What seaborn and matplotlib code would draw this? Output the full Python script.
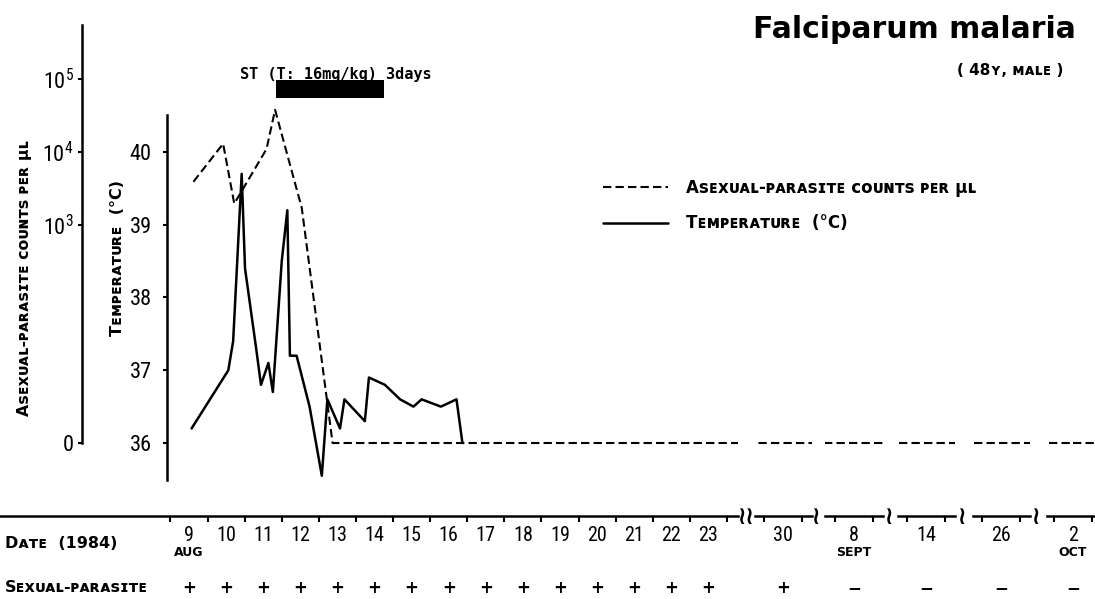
import numpy as np
import pandas as pd
import matplotlib
matplotlib.use("Agg")
import matplotlib.pyplot as plt
import matplotlib.transforms as mtransforms
from matplotlib import font_manager as fm
from matplotlib.ticker import FixedLocator, NullLocator, NullFormatter, FixedFormatter
import seaborn as sns

# ---------------- data ----------------
# x values are days counted from 1 Aug 1984 (Sep d -> 31 + d, Oct d -> 61 + d); d + 0.5 = noon of day d
temp_day = [9.57, 10.56, 10.69, 10.92, 11.01, 11.31, 11.44, 11.64, 11.76, 12.00,
            12.15, 12.22, 12.40, 12.75, 13.08, 13.23, 13.57, 13.69, 14.24, 14.35,
            14.78, 15.19, 15.55, 15.77, 16.29, 16.71, 16.87]
temp_c = [36.2, 37.0, 37.4, 39.7, 38.4, 37.3, 36.8, 37.1, 36.7, 38.5,
          39.2, 37.2, 37.2, 36.5, 35.55, 36.6, 36.2, 36.6, 36.3, 36.9,
          36.8, 36.6, 36.5, 36.6, 36.5, 36.6, 36.0]

para_day = [9.62, 10.42, 10.72, 11.59, 11.82, 12.54, 13.37, 30.5, 39.5, 45.5, 57.5, 63.5]
para_count = [3900, 13000, 1950, 11000, 38000, 1700, 0, 0, 0, 0, 0, 0]

treat_start = 11.85          # ST (T: 16mg/kg) 3days
treat_length = 2.9

main_dates = [9, 10, 11, 12, 13, 14, 15, 16, 17, 18, 19, 20, 21, 22, 23]
main_labels = ["9", "10", "11", "12", "13", "14", "15", "16", "17", "18", "19", "20", "21", "22", "23"]
follow_dates = [30, 39, 45, 57, 63]
follow_labels = ["30", "8", "14", "26", "2"]
months = [("AUG", 9), ("SEPT", 39), ("OCT", 63)]

sexual_dates = main_dates + follow_dates
sexual_marks = ["+"] * 15 + ["+", "\u2212", "\u2212", "\u2212", "\u2212"]

temp_ticks = [36, 37, 38, 39, 40]
para_ticks = [1, 1e3, 1e4, 1e5]
para_tick_labels = ["0", r"$\mathregular{10^3}$", r"$\mathregular{10^4}$", r"$\mathregular{10^5}$"]

# ---------------- layout (pixels) ----------------
W, H = 1095, 599
PPD = 37.1                 # pixels per day
X_NOON9 = 189              # pixel of 9 Aug noon
Y_36 = 443                 # pixel of 36 C / count 0 (10^0)
PPU = 72.75                # pixels per degree / per decade
Y_AXIS = 516
MAIN_R = 738
SEGS = [(755, 812, 783), (825, 883, 854), (898, 955, 926), (973, 1030, 1001), (1047, 1095, 1073)]
BREAKS = [(745, "\u2240\u2240"), (815, "\u2240"), (888, "\u2240"), (961, "\u2240"), (1035, "\u2240")]


def rect(l, r, t, b):
    return [l / W, 1 - b / H, (r - l) / W, (b - t) / H]


def temp_at(y):
    return 36 + (Y_36 - y) / PPU


def logc_at(y):
    return (Y_36 - y) / PPU


def day_at(x):
    return 9.5 + (x - X_NOON9) / PPD


# pick a narrow sans face if one is installed
narrow = None
for f in fm.fontManager.ttflist:
    st = f.stretch
    cond = ("condensed" in st) if isinstance(st, str) else (st < 500)
    if ("Narrow" in f.name or "Condensed" in f.name or cond) and "Mono" not in f.name \
            and "CJK" not in f.name and "Serif" not in f.name:
        if narrow is None or f.weight in ("normal", 400, "regular"):
            narrow = (f.name, st)
if narrow is not None:
    NUM_FAMILY = [narrow[0], "DejaVu Sans"]
    num_scale = 1.0
else:
    NUM_FAMILY = ["DejaVu Sans"]
    num_scale = 0.85

sns.set_theme(style="white")
plt.rcParams["font.family"] = NUM_FAMILY
if narrow is not None:
    plt.rcParams["font.stretch"] = narrow[1]
plt.rcParams["axes.linewidth"] = 1.8
plt.rcParams["axes.edgecolor"] = "black"
plt.rcParams["xtick.color"] = "black"
plt.rcParams["ytick.color"] = "black"
plt.rcParams["xtick.labelcolor"] = "black"
plt.rcParams["ytick.labelcolor"] = "black"
plt.rcParams["text.color"] = "black"
plt.rcParams["axes.labelcolor"] = "black"

fig = plt.figure(figsize=(W / 100, H / 100), dpi=100)
fig.patch.set_facecolor("white")

temp_df = pd.DataFrame({"day": temp_day, "temp": temp_c})
para_df = pd.DataFrame({"day": para_day, "count": para_count})
para_df["plot"] = np.where(para_df["count"] > 0, para_df["count"], 1.0)  # "0" sits at 10^0

DASH = (0, (4, 2))
SC = dict(family=["DejaVu Sans"], weight="bold", stretch="normal", color="black")
TICK_FS = 16 * num_scale
DATE_FS = 14.5 * num_scale


def date_axis(ax, dates, labels):
    ax.spines["bottom"].set_visible(True)
    ax.spines["bottom"].set_linewidth(1.8)
    ax.xaxis.set_major_locator(FixedLocator([d for d in dates] + [dates[-1] + 1]))
    ax.xaxis.set_major_formatter(NullFormatter())
    ax.xaxis.set_minor_locator(FixedLocator([d + 0.5 for d in dates]))
    ax.xaxis.set_minor_formatter(FixedFormatter(labels))
    ax.tick_params(axis="x", which="major", direction="out", length=4, width=1.5, bottom=True)
    ax.tick_params(axis="x", which="minor", length=0, pad=7, labelsize=DATE_FS, bottom=True)


# temperature axes
ax_t = fig.add_axes(rect(0, MAIN_R, 115, Y_AXIS))
ax_t.set_facecolor("none")
ax_t.set_xlim(day_at(0), day_at(MAIN_R))
ax_t.set_ylim(temp_at(Y_AXIS), temp_at(115))
for s in ["top", "right"]:
    ax_t.spines[s].set_visible(False)
ax_t.spines["left"].set_position(("axes", 167 / MAIN_R))
ax_t.spines["left"].set_bounds(temp_at(480), temp_at(115))
ax_t.set_yticks(temp_ticks)
ax_t.set_yticklabels([str(t) for t in temp_ticks])
ax_t.tick_params(axis="y", length=3, width=1.5, pad=8, labelsize=TICK_FS, left=True)
date_axis(ax_t, main_dates, main_labels)
sns.lineplot(data=temp_df, x="day", y="temp", ax=ax_t, color="black", lw=1.8,
             estimator=None, sort=False)
ax_t.set_xlabel("")
ax_t.set_ylabel("")

# parasite axes (log, same pixel scale)
ax_p = fig.add_axes(rect(0, MAIN_R, 25, Y_AXIS))
ax_p.set_facecolor("none")
ax_p.set_yscale("log")
ax_p.set_xlim(day_at(0), day_at(MAIN_R))
ax_p.set_ylim(10 ** logc_at(Y_AXIS), 10 ** logc_at(25))
for s in ["top", "right", "bottom"]:
    ax_p.spines[s].set_visible(False)
ax_p.spines["left"].set_position(("axes", 82 / MAIN_R))
ax_p.spines["left"].set_bounds(1, 10 ** logc_at(25))
ax_p.yaxis.set_major_locator(FixedLocator(para_ticks))
ax_p.yaxis.set_major_formatter(FixedFormatter(para_tick_labels))
ax_p.yaxis.set_minor_locator(NullLocator())
ax_p.tick_params(axis="y", length=3, width=1.5, pad=3, labelsize=TICK_FS, left=True)
ax_p.set_xticks([])
sns.lineplot(data=para_df, x="day", y="plot", ax=ax_p, color="black", lw=1.5,
             linestyle=DASH, estimator=None, sort=False)
ax_p.set_xlabel("")
ax_p.set_ylabel("")
fy = lambda y: (Y_AXIS - y) / (Y_AXIS - 25)
ax_p.axvspan(treat_start, treat_start + treat_length, ymin=fy(98), ymax=fy(80),
             color="black", lw=0)

# follow-up segments
seg_axes = []
for (L, R, c), d, lab in zip(SEGS, follow_dates, follow_labels):
    ax = fig.add_axes(rect(L, R, 25, Y_AXIS))
    ax.set_facecolor("none")
    ax.set_yscale("log")
    ax.set_ylim(10 ** logc_at(Y_AXIS), 10 ** logc_at(25))
    ax.set_xlim(d + 0.5 - (c - L) / PPD, d + 0.5 + (R - c) / PPD)
    for s in ["top", "right", "left"]:
        ax.spines[s].set_visible(False)
    ax.set_yticks([])
    ax.yaxis.set_minor_locator(NullLocator())
    date_axis(ax, [d], [lab])
    sns.lineplot(data=para_df, x="day", y="plot", ax=ax, color="black", lw=1.5,
                 linestyle=DASH, estimator=None, sort=False)
    ax.set_xlabel("")
    ax.set_ylabel("")
    seg_axes.append(ax)
# last value held to the right edge
last = seg_axes[-1]
last.hlines(para_df["plot"].iloc[-1], para_df["day"].iloc[-1], last.get_xlim()[1],
            color="black", lw=1.5, linestyle=DASH)

# axis break marks
for x, s in BREAKS:
    fig.text(x / W, 1 - (Y_AXIS + 1) / H, s, ha="center", va="center", fontsize=18,
             family=["DejaVu Sans"], weight="bold", color="black")

# month labels and sexual-parasite row
all_axes = {d: ax_t for d in main_dates}
all_axes.update({d: a for d, a in zip(follow_dates, seg_axes)})
for m, d in months:
    tr = mtransforms.blended_transform_factory(all_axes[d].transData, fig.transFigure)
    all_axes[d].text(d + 0.5, 1 - 553 / H, m, transform=tr, ha="center", va="center",
                     fontsize=9, clip_on=False, **SC)
for d, mk in zip(sexual_dates, sexual_marks):
    tr = mtransforms.blended_transform_factory(all_axes[d].transData, fig.transFigure)
    all_axes[d].text(d + 0.5, 1 - 588 / H, mk, transform=tr, ha="center", va="center",
                     fontsize=12, clip_on=False, **SC)

# texts
ASEX = ("A\ua731\u1d07x\u1d1c\u1d00\u029f-\u1d18\u1d00\u0280\u1d00\ua731\u026a\u1d1b\u1d07 "
        "\u1d04\u1d0f\u1d1c\u0274\u1d1b\ua731 \u1d18\u1d07\u0280 \u03bc\u029f")
TEMP = "T\u1d07\u1d0d\u1d18\u1d07\u0280\u1d00\u1d1b\u1d1c\u0280\u1d07  (\u00b0C)"
fig.text(5 / W, 1 - 544 / H, "D\u1d00\u1d1b\u1d07  (1984)", ha="left", va="center", fontsize=11.5, **SC)
fig.text(5 / W, 1 - 588 / H, "S\u1d07x\u1d1c\u1d00\u029f-\u1d18\u1d00\u0280\u1d00\ua731\u026a\u1d1b\u1d07",
         ha="left", va="center", fontsize=11.5, **SC)
fig.text(25 / W, 1 - 278 / H, ASEX, rotation=90, ha="center", va="center", fontsize=11.3, **SC)
fig.text(118 / W, 1 - 258 / H, TEMP, rotation=90, ha="center", va="center", fontsize=11.5, **SC)

fig.text(1076 / W, 1 - 38 / H, "Falciparum malaria", ha="right", va="baseline",
         family=["DejaVu Sans"], stretch="normal", weight="bold",
         fontsize=21.5, color="black")
fig.text(1063 / W, 1 - 75 / H, "( 48\u028f, \u1d0d\u1d00\u029f\u1d07 )", ha="right", va="baseline",
         fontsize=11, **SC)
fig.text(240 / W, 1 - 75 / H, "ST (T: 16mg/kg) 3days", ha="left", va="center",
         family=["DejaVu Sans Mono"], stretch="normal", fontsize=11, weight="bold", color="black")

fig.legend([ax_p.lines[0], ax_t.lines[0]], [ASEX, TEMP], loc="upper left",
           bbox_to_anchor=(603 / W, 1 - 179 / H), frameon=False, borderpad=0,
           borderaxespad=0, handlelength=3.9, handletextpad=1.1, labelspacing=1.05,
           prop=dict(family=["DejaVu Sans"], weight="bold", stretch="normal", size=12))

fig.savefig("out.png", dpi=100, facecolor="white")
